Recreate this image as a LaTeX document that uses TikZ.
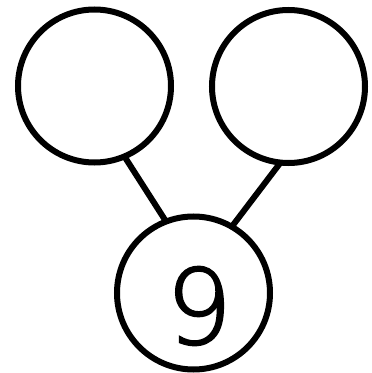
\documentclass[tikz,border=0pt]{standalone}
\usepackage{fontspec}
\newfontfamily\digitfont[FakeBold=2]{DejaVu Sans ExtraLight}
\begin{document}
\begin{tikzpicture}[x=1pt,y=1pt,
  bond/.style={draw=black,circle,line width=6pt,minimum size=153pt,inner sep=0pt,outer sep=0pt},
  link/.style={draw=black,line width=6pt}]
\useasboundingbox (0,0) rectangle (372,373);
\node[bond] (L) at (94.5,287) {};
\node[bond] (R) at (288.5,286.5) {};
\node[bond] (B) at (193.5,80) {};
\node (N) at (199,67) {\digitfont\fontsize{104}{110}\selectfont 9};
\draw[link] (L.-67.6) -- (B.111);
\draw[link] (R.-96) -- (B.60.6);
\end{tikzpicture}
\end{document}
